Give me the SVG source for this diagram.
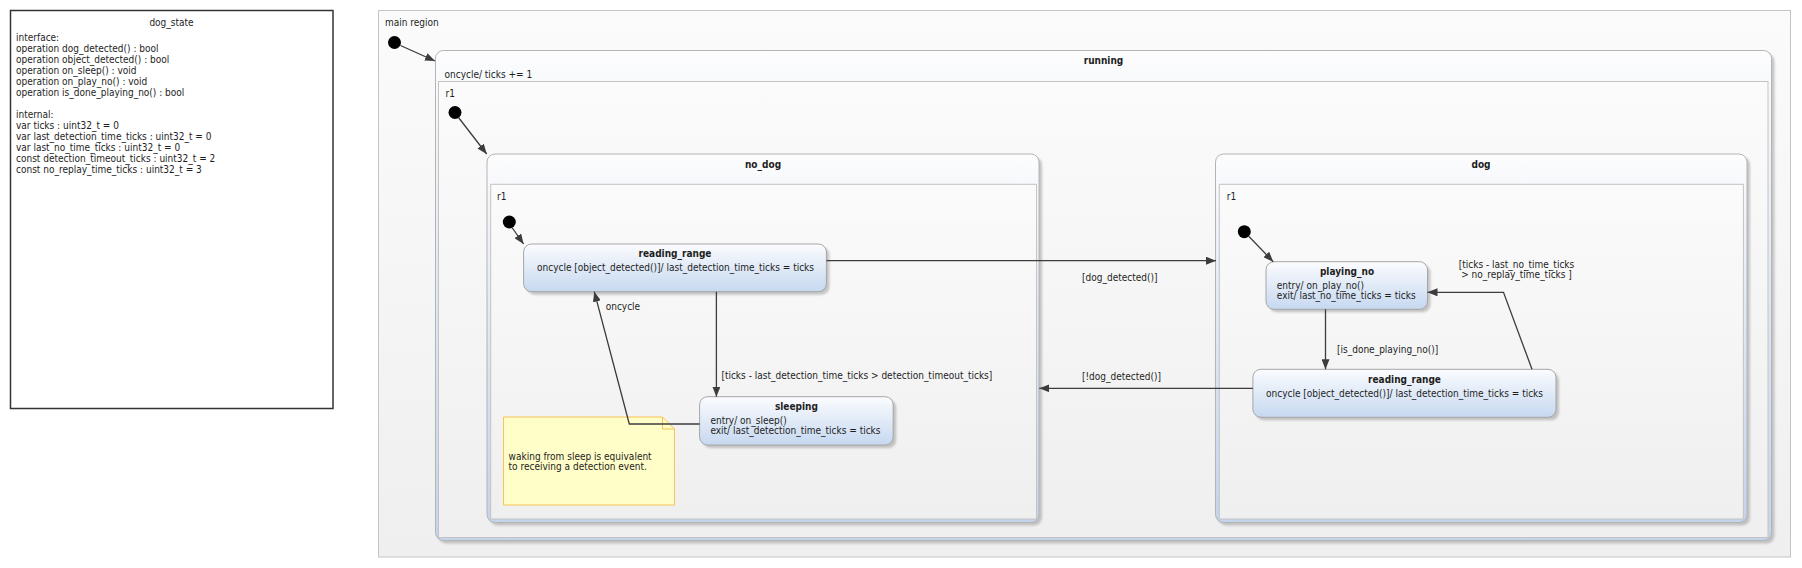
<svg xmlns="http://www.w3.org/2000/svg" width="1802" height="568" viewBox="0 0 1802 568">
<defs>
<style>
.t{font-family:"DejaVu Sans Condensed","DejaVu Sans",sans-serif;font-size:10px;fill:#1e1e1e}
.b{font-weight:bold;text-anchor:middle}
.m{text-anchor:middle}
.reg{stroke:#c4c4c4;stroke-width:1;fill:url(#gReg)}
.comp{stroke:#b4b4b4;stroke-width:1;fill:url(#gComp)}
.st{stroke:#a6a6a6;stroke-width:1;fill:url(#gSt)}
.sh{fill:#9a9a9a;opacity:0.55}
.init{fill:#000}
.c{fill:none;stroke:#3c3c3c;stroke-width:1.3}
.ca{fill:none;stroke:#3c3c3c;stroke-width:1.3;marker-end:url(#arr)}
</style>
<linearGradient id="gReg" x1="0" y1="0" x2="0" y2="1"><stop offset="0" stop-color="#fbfbfb"/><stop offset="1" stop-color="#efefef"/></linearGradient>
<linearGradient id="gComp" x1="0" y1="0" x2="0" y2="1"><stop offset="0" stop-color="#fdfdfe"/><stop offset="0.12" stop-color="#f3f6fa"/><stop offset="1" stop-color="#c3d4ec"/></linearGradient>
<linearGradient id="gSt" x1="0" y1="0" x2="0" y2="1"><stop offset="0" stop-color="#fbfcfe"/><stop offset="1" stop-color="#c6d8f0"/></linearGradient>
<marker id="arr" viewBox="0 0 10 8" refX="10" refY="4" markerWidth="10" markerHeight="8" orient="auto" markerUnits="userSpaceOnUse"><path d="M0,0 L10,4 L0,8 z" fill="#3c3c3c"/></marker>
<filter id="blur" x="-5%" y="-5%" width="110%" height="110%"><feGaussianBlur stdDeviation="1"/></filter>
</defs>
<rect width="1802" height="568" fill="#ffffff"/>

<g id="dog_state">
<rect x="10.5" y="10.5" width="322.5" height="398" fill="#fff" stroke="#333" stroke-width="1.5"/>
<text class="t m" x="171.5" y="26">dog_state</text>
<text class="t" x="16" y="40.5">interface:</text>
<text class="t" x="16" y="52">operation dog_detected() : bool</text>
<text class="t" x="16" y="63">operation object_detected() : bool</text>
<text class="t" x="16" y="74">operation on_sleep() : void</text>
<text class="t" x="16" y="85">operation on_play_no() : void</text>
<text class="t" x="16" y="96">operation is_done_playing_no() : bool</text>
<text class="t" x="16" y="117.5">internal:</text>
<text class="t" x="16" y="128.5">var ticks : uint32_t = 0</text>
<text class="t" x="16" y="139.5">var last_detection_time_ticks : uint32_t = 0</text>
<text class="t" x="16" y="150.5">var last_no_time_ticks : uint32_t = 0</text>
<text class="t" x="16" y="161.5">const detection_timeout_ticks : uint32_t = 2</text>
<text class="t" x="16" y="172.5">const no_replay_time_ticks : uint32_t = 3</text>
</g>

<g id="main_region">
<rect class="reg" x="378.5" y="10.5" width="1412" height="546.5"/>
<text class="t" x="385" y="26">main region</text>
<circle class="init" cx="394.5" cy="42.5" r="6.5"/>
</g>

<g id="running">
<rect class="sh" x="438.5" y="53.5" width="1336" height="490" rx="8" filter="url(#blur)"/>
<rect class="comp" x="435.5" y="50.5" width="1336" height="490" rx="8"/>
<text class="t b" x="1103.5" y="63.5">running</text>
<text class="t" x="444.5" y="77.5">oncycle/ ticks += 1</text>
<rect class="reg" x="438.5" y="81.5" width="1329.5" height="456"/>
<text class="t" x="445.5" y="97">r1</text>
<circle class="init" cx="455" cy="112.5" r="6.5"/>
</g>

<g id="no_dog">
<rect class="sh" x="490" y="157" width="552" height="368.5" rx="8" filter="url(#blur)"/>
<rect class="comp" x="487" y="154" width="552" height="368.5" rx="8"/>
<text class="t b" x="763" y="167.5">no_dog</text>
<rect class="reg" x="490.7" y="184.3" width="545.8" height="334.7"/>
<text class="t" x="497" y="199.5">r1</text>
<circle class="init" cx="509.3" cy="222" r="6.5"/>
</g>

<g id="no_dog_reading_range">
<rect class="sh" x="526.6" y="247" width="302.8" height="47.7" rx="8" filter="url(#blur)"/>
<rect class="st" x="523.6" y="244" width="302.8" height="47.7" rx="8"/>
<text class="t b" x="675" y="256.8">reading_range</text>
<text class="t m" x="675.5" y="270.8">oncycle [object_detected()]/ last_detection_time_ticks = ticks</text>
</g>

<g id="sleeping">
<rect class="sh" x="702.6" y="399.7" width="193.6" height="48.3" rx="8" filter="url(#blur)"/>
<rect class="st" x="699.6" y="396.7" width="193.6" height="48.3" rx="8"/>
<text class="t b" x="796.4" y="409.5">sleeping</text>
<text class="t" x="710.4" y="423.5">entry/ on_sleep()</text>
<text class="t" x="710.4" y="434.2">exit/ last_detection_time_ticks = ticks</text>
</g>

<g id="note">
<path d="M503.5,417 H662.5 L674.5,429 V505 H503.5 Z" fill="#fffdc8" stroke="#f7c455" stroke-width="1"/>
<path d="M662.5,417 V429 H674.5" fill="none" stroke="#f7c455" stroke-width="1"/>
<text class="t" x="508.6" y="459.5">waking from sleep is equivalent</text>
<text class="t" x="508.6" y="470">to receiving a detection event.</text>
</g>

<g id="dog">
<rect class="sh" x="1218.5" y="157" width="531.5" height="368.5" rx="8" filter="url(#blur)"/>
<rect class="comp" x="1215.5" y="154" width="531.5" height="368.5" rx="8"/>
<text class="t b" x="1481" y="167.5">dog</text>
<rect class="reg" x="1219.3" y="184.3" width="524.1" height="334.7"/>
<text class="t" x="1226.8" y="199.5">r1</text>
<circle class="init" cx="1244.3" cy="231.7" r="6.5"/>
</g>

<g id="playing_no">
<rect class="sh" x="1269" y="264.7" width="161.5" height="47.6" rx="8" filter="url(#blur)"/>
<rect class="st" x="1266" y="261.7" width="161.5" height="47.6" rx="8"/>
<text class="t b" x="1347" y="274.5">playing_no</text>
<text class="t" x="1276.8" y="288.5">entry/ on_play_no()</text>
<text class="t" x="1276.8" y="299">exit/ last_no_time_ticks = ticks</text>
</g>

<g id="dog_reading_range">
<rect class="sh" x="1255.9" y="372.3" width="303.1" height="48" rx="8" filter="url(#blur)"/>
<rect class="st" x="1252.9" y="369.3" width="303.1" height="48" rx="8"/>
<text class="t b" x="1404.5" y="382.5">reading_range</text>
<text class="t m" x="1404.5" y="396.5">oncycle [object_detected()]/ last_detection_time_ticks = ticks</text>
</g>

<g id="connectors">
<line class="ca" x1="400.5" y1="45.5" x2="435" y2="61"/>
<line class="ca" x1="458.5" y1="117.5" x2="486.7" y2="154"/>
<line class="ca" x1="512" y1="227.5" x2="523.6" y2="244"/>
<line class="ca" x1="1249" y1="236.5" x2="1273.2" y2="261.7"/>
<line class="ca" x1="826.4" y1="260.7" x2="1216" y2="260.7"/>
<text class="t" x="1082" y="281">[dog_detected()]</text>
<line class="ca" x1="716.4" y1="291.7" x2="716.4" y2="396.7"/>
<text class="t" x="721.4" y="379.2">[ticks - last_detection_time_ticks &gt; detection_timeout_ticks]</text>
<polyline class="ca" points="699.6,424 629.3,424 594.3,291.7"/>
<text class="t" x="605.7" y="310">oncycle</text>
<line class="ca" x1="1325.5" y1="309.3" x2="1325.5" y2="369.3"/>
<text class="t" x="1337" y="352.8">[is_done_playing_no()]</text>
<polyline class="ca" points="1532,369.3 1503.5,292.3 1427.5,292.3"/>
<text class="t m" x="1516.5" y="267.5">[ticks - last_no_time_ticks</text>
<text class="t m" x="1516.5" y="278.2">&gt; no_replay_time_ticks ]</text>
<line class="ca" x1="1252.9" y1="388.3" x2="1039.3" y2="388.3"/>
<text class="t" x="1082" y="379.5">[!dog_detected()]</text>
</g>
</svg>
